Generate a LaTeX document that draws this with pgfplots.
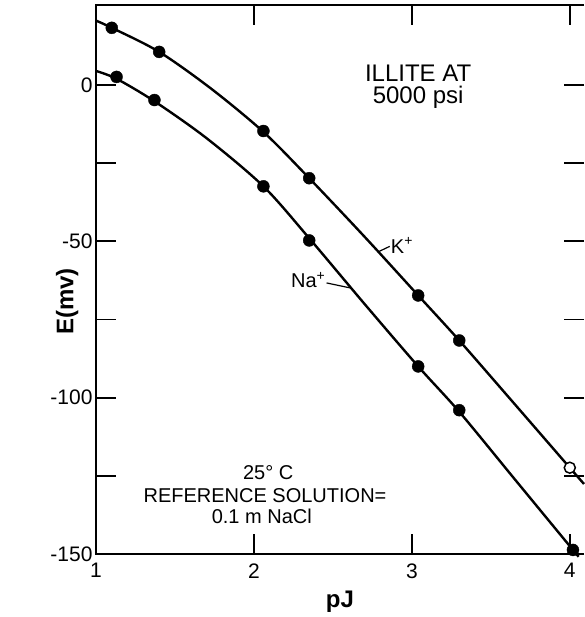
\documentclass[border=0pt]{standalone}
\usepackage{fontspec}
\setmainfont{Liberation Sans}
\usepackage{pgfplots}
\pgfplotsset{compat=1.18}

% K+ and Na+ electrode potentials, illite at 5000 psi
\pgfplotstableread{
x y
1.10 18.3
1.40 10.6
2.06 -14.7
2.35 -29.8
3.04 -67.3
3.30 -81.7
}\kdata
\pgfplotstableread{
x y
1.13 2.6
1.37 -4.8
2.06 -32.4
2.35 -49.7
3.04 -90.0
3.30 -104.0
4.02 -148.7
}\nadata

\begin{document}
\begin{tikzpicture}
\begin{axis}[
    scale only axis,
    width=488pt, height=549pt,
    xmin=1, xmax=4.09,
    ymin=-150, ymax=25.6,
    xtick={1,2,3,4},
    ytick={-150,-100,-50,0},
    minor ytick={-125,-75,-25},
    tick align=inside,
    major tick length=20pt, minor tick length=20pt,
    tick style={line width=1.8pt, black},
    axis line style={draw=none},
    /pgf/number format/assume math mode=true,
    every tick label/.append style={font=\fontsize{21}{21}\selectfont},
    xticklabel style={yshift=-6pt},
    xlabel={\textbf{pJ}}, ylabel={\textbf{E(mv)}},
    label style={font=\fontsize{24}{24}\selectfont},
    xlabel style={yshift=-6pt},
    ylabel style={yshift=14pt, at={(rel axis cs:0,0.46)}},
    clip=false,
]
\draw[line width=2.2pt] (rel axis cs:1,1) -- (rel axis cs:0,1) -- (rel axis cs:0,0) -- (rel axis cs:1,0);
\coordinate (bl) at (rel axis cs:0,0);
\coordinate (tr) at (rel axis cs:1,1);

\addplot[smooth, line width=2.4pt, black] coordinates {
(1.00,20.6)(1.10,18.3)(1.40,10.6)(1.73,-1.2)(2.06,-15.0)(2.35,-29.8)(2.70,-48.5)(3.04,-67.3)(3.30,-81.7)(3.65,-102.0)(4.00,-122.4)(4.09,-127.6)
};
\addplot[smooth, line width=2.4pt, black] coordinates {
(1.00,4.5)(1.13,2.0)(1.37,-5.2)(1.70,-17.0)(2.06,-32.4)(2.35,-49.0)(2.70,-70.0)(3.04,-90.0)(3.30,-104.5)(3.65,-126.0)(4.02,-148.7)(4.05,-150.5)
};

\addplot[only marks, mark=*, mark size=6pt, black] table[x=x, y=y] {\kdata};
\addplot[only marks, mark=*, mark size=6pt, black] table[x=x, y=y] {\nadata};
\addplot[only marks, mark=*, mark size=5.5pt, line width=1.5pt, draw=black, fill=white] coordinates {(4.00,-122.4)};

\node[font=\fontsize{24}{24}\selectfont] at (axis cs:3.04,3.8) {ILLITE AT};
\node[font=\fontsize{24}{24}\selectfont] at (axis cs:3.04,-3.8) {5000 psi};

\node[font=\fontsize{20}{20}\selectfont] at (axis cs:2.09,-124) {25° C};
\node[font=\fontsize{20}{20}\selectfont] at (axis cs:2.07,-131.2) {REFERENCE SOLUTION=};
\node[font=\fontsize{20}{20}\selectfont] at (axis cs:2.05,-137.8) {0.1 m NaCl};

\draw[line width=1.2pt] (axis cs:2.785,-53.4) -- (axis cs:2.86,-51.6);
\node[anchor=west, inner sep=1pt, font=\fontsize{20}{20}\selectfont] at (axis cs:2.86,-51.3) {K\textsuperscript{+}};
\draw[line width=1.2pt] (axis cs:2.61,-64.9) -- (axis cs:2.46,-63.3);
\node[anchor=east, inner sep=1pt, font=\fontsize{20}{20}\selectfont] at (axis cs:2.46,-62.4) {Na\textsuperscript{+}};
\end{axis}
\pgfresetboundingbox
\path ([xshift=-96pt,yshift=-63pt]bl) rectangle ([yshift=5pt]tr);
\end{tikzpicture}
\end{document}
